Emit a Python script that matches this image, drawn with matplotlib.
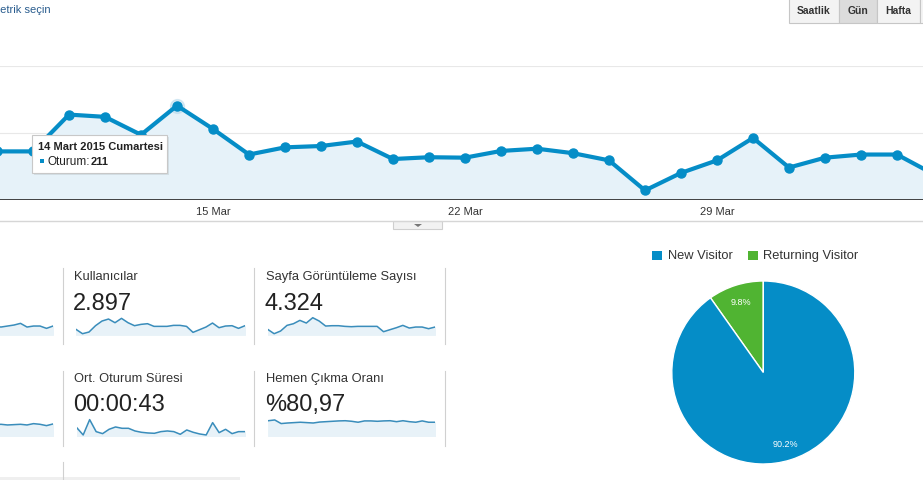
import matplotlib
matplotlib.use('Agg')
import matplotlib.pyplot as plt
from matplotlib.patches import Rectangle, Polygon

plt.rcParams['font.family'] = ['Liberation Sans', 'DejaVu Sans']

W, H = 923, 481

# Günlük oturum sayısı (9 Mart - 4 Nisan 2015), gün numarası: Mart günü, Nisan = 31 + gün
days = list(range(9, 36))
sessions = [109, 109, 191, 186, 146, 211, 159, 102, 118, 121, 131, 92, 96, 95,
            110, 115, 105, 89, 22, 61, 89, 139, 73, 95, 102, 102, 59]
tick_days = [15, 22, 29]
tick_labels = ['15 Mar', '22 Mar', '29 Mar']
grid_values = [150, 300]

# Kartlar: başlık, değer
card_titles = ['Kullanıcılar', 'Sayfa Görüntüleme Sayısı', 'Ort. Oturum Süresi', 'Hemen Çıkma Oranı']
card_values = ['2.897', '4.324', '00:00:43', '%80,97']

# Kıvılcım çizgileri (göreli değerler)
spark_sessions = [16, 5, 10, 27, 40, 46, 36, 48, 36, 27, 31, 33, 25, 25, 25, 28, 28, 25,
                  23, 26, 29, 34, 23, 26, 26, 19, 26]
spark_users = [16, 3, 8, 27, 41, 47, 36, 49, 36, 27, 31, 33, 25, 25, 25, 28, 28, 25,
               7, 15, 23, 35, 21, 26, 27, 19, 27]
spark_pageviews = [16, 3, 11, 28, 33, 43, 35, 51, 41, 26, 27, 27, 25, 24, 25, 25, 25, 25,
                   9, 15, 21, 28, 20, 23, 23, 18, 23]
spark_pages_per = [35, 34, 36, 35, 34, 36, 35, 36, 35, 34, 35, 36, 35, 34, 35, 35, 36, 35,
                   36, 34, 35, 36, 34, 38, 36, 32, 37]
spark_duration = [26, 4, 50, 14, 8, 21, 28, 24, 24, 16, 12, 10, 9, 14, 16, 14, 6, 19,
                  12, 7, 4, 41, 11, 21, 8, 14, 14]
spark_bounce = [82, 86, 67, 70, 72, 74, 72, 70, 75, 77, 79, 81, 82, 79, 74, 81, 81, 79,
                81, 82, 77, 82, 77, 74, 81, 74, 74]

# Ziyaretçi türü
visitor_labels = ['Returning Visitor', 'New Visitor']
visitor_share = [9.8, 90.2]
visitor_colors = ['#50b432', '#058dc7']

BLUE = '#058dc7'
TEXT = '#333333'


def px_axes(fig, x0, y0, x1, y1, **kw):
    return fig.add_axes([x0 / W, 1 - y1 / H, (x1 - x0) / W, (y1 - y0) / H], **kw)


fig = plt.figure(figsize=(W / 100, H / 100), dpi=100)
fig.patch.set_facecolor('white')

# arka plan / metin katmanı
bg = fig.add_axes([0, 0, 1, 1])
bg.set_xlim(0, W)
bg.set_ylim(H, 0)
bg.axis('off')

bg.text(-9, 10, 'Metrik seçin', fontsize=8, color='#2a5d8f', va='center', ha='left')

# ana grafik
ax = px_axes(fig, 0, 66.7, W, 201.3)
x0 = 15 - 213 / 36
ax.set_xlim(x0, x0 + W / 36)
ax.set_ylim(0, 300)
for g in grid_values:
    ax.axhline(g, color='#e8e8e8', lw=0.8, zorder=0)
ax.fill_between(days, sessions, 0, color='#e6f2f9', zorder=1)
ax.plot(days, sessions, color=BLUE, lw=3.0, marker='o', ms=6.5, zorder=3)
ax.plot([14], [211], marker='o', ms=10, color='#b5d9ec', alpha=0.5, zorder=2)
ax.axhline(0, color='#333333', lw=1.3, zorder=4)
ax.axis('off')
for d, lab in zip(tick_days, tick_labels):
    bg.text(213 + (d - 15) * 36, 212, lab, fontsize=8, color=TEXT, ha='center', va='center')

# alt ayırıcı ve küçük düğme
bg.plot([0, W], [222, 222], color='#d6d6d6', lw=1)
bg.add_patch(Rectangle((393, 222), 49, 8, facecolor='#f2f2f2', edgecolor='#cfcfcf', lw=0.8))
bg.add_patch(Polygon([[414, 225], [422, 225], [418, 228]], closed=True, facecolor='#777777'))

# üst sağ düğmeler
btns = [('Saatlik', 788.5, 838.5, '#f3f3f3'), ('Gün', 838.5, 876.5, '#dcdcdc'),
        ('Hafta', 876.5, 920, '#f3f3f3'), ('', 920, 940, '#f3f3f3')]
for lab, a, b, fc in btns:
    bg.add_patch(Rectangle((a, -2), b - a, 26, facecolor=fc, edgecolor='#c6c6c6', lw=0.8))
    bg.text((a + b) / 2, 10.5, lab, fontsize=7.5, fontweight='bold', color=TEXT,
            ha='center', va='center')

# kartlar
for xv in [63.3, 254.3, 445.3]:
    bg.plot([xv, xv], [269, 345], color='#d0d0d0', lw=0.8)
    bg.plot([xv, xv], [372, 447], color='#d0d0d0', lw=0.8)
bg.plot([63.3, 63.3], [463, 481], color='#d0d0d0', lw=0.8)
bg.add_patch(Rectangle((0, 478), 240, 4, facecolor='#efefef', edgecolor='none'))

title_pos = [(74, 277.3), (265.7, 277.3), (74, 379), (265.7, 379)]
for (tx, ty), t, v in zip(title_pos, card_titles, card_values):
    bg.text(tx, ty, t, fontsize=9.3, color=TEXT, ha='left', va='center')
    bg.text(tx - 1, ty + 26.5, v, fontsize=17, color='#222222', ha='left', va='center')

sparks = [
    (spark_sessions, -116, 53, 335.7, 57),
    (spark_users, 76, 245, 335.7, 57),
    (spark_pageviews, 267.7, 435, 335.7, 57),
    (spark_pages_per, -116, 53, 437.3, 57),
    (spark_duration, 76.7, 245, 437.3, 57),
    (spark_bounce, 268.3, 435, 437.3, 100),
]
for vals, sx0, sx1, base, top in sparks:
    sa = px_axes(fig, sx0, base - 19, sx1, base)
    xs = list(range(len(vals)))
    sa.fill_between(xs, vals, 0, color='#e8f2f8')
    sa.plot(xs, vals, color='#3a8dbb', lw=1.1)
    sa.set_xlim(0, len(vals) - 1)
    sa.set_ylim(0, top)
    sa.axis('off')

# pasta grafiği
cx, cy, r = 763.3, 373.5, 91.5
pa = px_axes(fig, cx - r, cy - r, cx + r, cy + r)
wedges, texts, autotexts = pa.pie(visitor_share, colors=visitor_colors, startangle=90,
                                  counterclock=True, autopct='%.1f%%', pctdistance=0.81,
                                  wedgeprops=dict(edgecolor='white', linewidth=1),
                                  textprops=dict(color='white', fontsize=6.5))
pa.set_xlim(-1, 1)
pa.set_ylim(-1, 1)
pa.set_aspect('equal')
pa.axis('off')

# lejant
bg.add_patch(Rectangle((652.3, 251.5), 9.5, 9.5, facecolor=visitor_colors[1], edgecolor='none'))
bg.text(667.7, 256.5, visitor_labels[1], fontsize=9.3, color=TEXT, va='center', ha='left')
bg.add_patch(Rectangle((748.3, 251.5), 9.5, 9.5, facecolor=visitor_colors[0], edgecolor='none'))
bg.text(763.3, 256.5, visitor_labels[0], fontsize=9.3, color=TEXT, va='center', ha='left')

# ipucu kutusu
top = fig.add_axes([0, 0, 1, 1], zorder=10)
top.set_xlim(0, W)
top.set_ylim(H, 0)
top.axis('off')
top.patch.set_alpha(0)
top.add_patch(Rectangle((34, 138), 135, 38, facecolor='#000000', alpha=0.08, edgecolor='none'))
top.add_patch(Rectangle((32, 136), 135, 38, facecolor='white', edgecolor='#c8c8c8', lw=0.8))
top.text(38, 147, '14 Mart 2015 Cumartesi', fontsize=8, fontweight='bold', color='#222222',
         va='center', ha='left')
top.add_patch(Rectangle((39.5, 159.5), 4.5, 4.5, facecolor=BLUE, edgecolor='none'))
top.text(47.5, 161.7, 'Oturum:', fontsize=8.5, color='#222222', va='center', ha='left')
top.text(90.5, 161.7, str(sessions[days.index(14)]), fontsize=8, fontweight='bold',
         color='#222222', va='center', ha='left')

fig.savefig('out.png', dpi=100)
